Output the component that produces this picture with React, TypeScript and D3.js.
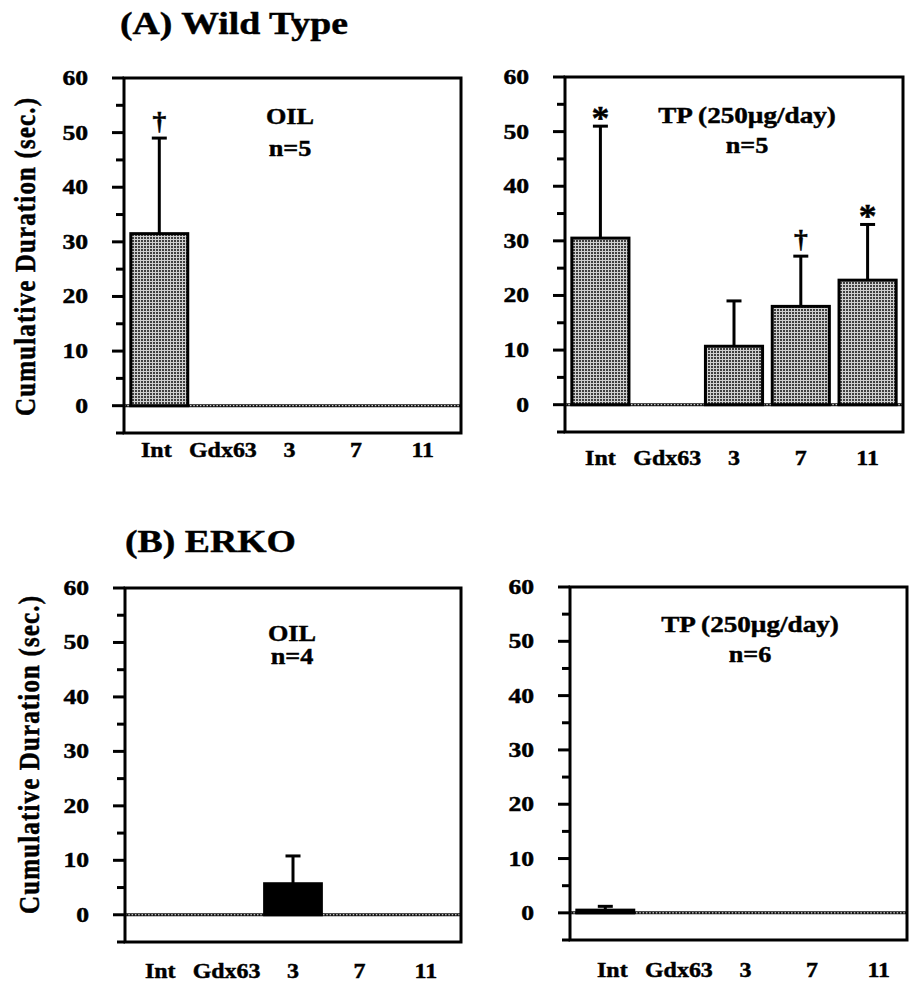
import React from "react";
import * as d3 from "d3";

// ---------- data ----------
const categories = ["Int", "Gdx63", "3", "7", "11"];

const wtOilMean = [31.5, 0, 0, 0, 0];
const wtOilSem = [17.5, 0, 0, 0, 0];
const wtOilMarks = ["†", "", "", "", ""];

const wtTpMean = [30.5, 0, 10.7, 18, 22.8];
const wtTpSem = [20.5, 0, 8.3, 9.2, 10.2];
const wtTpMarks = ["*", "", "", "†", "*"];

const erkoOilMean = [0, 0, 5.7, 0, 0];
const erkoOilSem = [0, 0, 5.1, 0, 0];
const erkoOilMarks = ["", "", "", "", ""];

const erkoTpMean = [0.5, 0, 0, 0, 0];
const erkoTpSem = [0.7, 0, 0, 0, 0];
const erkoTpMarks = ["", "", "", "", ""];

const majorTicks = [0, 10, 20, 30, 40, 50, 60];
const minorTicks = [-5, 5, 15, 25, 35, 45, 55];
const yDomain = [-5, 60];

const titles = ["(A) Wild Type", "(B) ERKO"];
const yAxisTitle = "Cumulative  Duration  (sec.)";
const treatments = ["OIL", "TP (250µg/day)", "OIL", "TP (250µg/day)"];
const nLabels = ["n=5", "n=5", "n=4", "n=6"];

// ---------- layout ----------
const FONT = "'Liberation Serif', 'Times New Roman', Times, serif";

type Layout = {
  axisX: number; rightX: number; top: number; bottom: number;
  labelY: number; labelDx: number; annX: number; ann1Y: number; ann2Y: number;
  yTitle?: { x: number; y: number };
};

const layouts: Layout[] = [
  { axisX: 124, rightX: 461, top: 78, bottom: 433, labelY: 457, labelDx: -3, annX: 290, ann1Y: 124, ann2Y: 156, yTitle: { x: 35, y: 257 } },
  { axisX: 565, rightX: 903, top: 77, bottom: 432, labelY: 465, labelDx: 0, annX: 747, ann1Y: 123, ann2Y: 153 },
  { axisX: 125, rightX: 461, top: 588, bottom: 942, labelY: 978, labelDx: 0, annX: 292, ann1Y: 641, ann2Y: 664, yTitle: { x: 39, y: 755 } },
  { axisX: 570, rightX: 907, top: 587, bottom: 940, labelY: 977, labelDx: 7, annX: 750, ann1Y: 632, ann2Y: 662 },
];

const series = [
  { mean: wtOilMean, sem: wtOilSem, marks: wtOilMarks, fill: "url(#dots)" },
  { mean: wtTpMean, sem: wtTpSem, marks: wtTpMarks, fill: "url(#dots)" },
  { mean: erkoOilMean, sem: erkoOilSem, marks: erkoOilMarks, fill: "#000" },
  { mean: erkoTpMean, sem: erkoTpSem, marks: erkoTpMarks, fill: "#000" },
];

function T(props: {
  x: number; y: number; size: number; sx?: number; anchor?: string; rotate?: number;
  children: React.ReactNode; textLength?: number;
}) {
  const { x, y, size, sx = 1.15, anchor = "middle", rotate = 0, children, textLength } = props;
  return (
    <text
      transform={`translate(${x},${y}) scale(${sx},1)${rotate ? ` rotate(${rotate})` : ""}`}
      textAnchor={anchor}
      fontFamily={FONT}
      fontWeight="bold"
      fontSize={size}
      fill="#000"
      stroke="#000"
      strokeWidth={0.45}
      {...(textLength ? { textLength, lengthAdjust: "spacing" } : {})}
    >
      {children}
    </text>
  );
}

function Panel({ idx }: { idx: number }) {
  const L = layouts[idx];
  const s = series[idx];
  const x = d3.scaleBand<string>().domain(categories).range([L.axisX, L.rightX]).paddingInner(0.1).paddingOuter(0.08);
  const y = d3.scaleLinear().domain(yDomain).range([L.bottom, L.top]);
  const y0 = y(0);
  const bw = x.bandwidth();
  const lw = 3;

  return (
    <g>
      {/* zero baseline (dotted) */}
      <line x1={L.axisX} x2={L.rightX} y1={y0} y2={y0} stroke="#111" strokeWidth={3} />
      <line x1={L.axisX} x2={L.rightX} y1={y0} y2={y0} stroke="#fff" strokeWidth={1} strokeDasharray="1.5 1.8" />

      {/* bars */}
      {categories.map((c, i) => {
        const v = s.mean[i];
        if (v <= 0) return null;
        const bx = x(c)!;
        const top = y(v);
        const errTop = y(v + s.sem[i]);
        const cx = bx + bw / 2;
        return (
          <g key={c}>
            <line x1={cx} x2={cx} y1={top} y2={errTop} stroke="#000" strokeWidth={lw} />
            <line x1={cx - 7.5} x2={cx + 7.5} y1={errTop} y2={errTop} stroke="#000" strokeWidth={lw} />
            <rect x={bx + 1.5} y={top} width={bw - 3} height={y0 - top} fill={s.fill} stroke="#000" strokeWidth={lw} />
            {s.marks[i] === "*" && (
              <T x={cx} y={errTop + 3} size={34} sx={1.05}>*</T>
            )}
            {s.marks[i] === "†" && (
              <T x={cx} y={errTop - 8} size={25} sx={1.1}>†</T>
            )}
          </g>
        );
      })}

      {/* frame */}
      <rect x={L.axisX} y={L.top} width={L.rightX - L.axisX} height={L.bottom - L.top} fill="none" stroke="#000" strokeWidth={3} />

      {/* ticks */}
      {majorTicks.map((t) => (
        <g key={"M" + t}>
          <line x1={L.axisX - 12} x2={L.axisX} y1={y(t)} y2={y(t)} stroke="#000" strokeWidth={3} />
          <T x={L.axisX - 36} y={y(t) + 7} size={20.5} sx={1.25} anchor="end">{String(t)}</T>
        </g>
      ))}
      {minorTicks.map((t) => (
        <line key={"m" + t} x1={L.axisX - 8} x2={L.axisX} y1={y(t)} y2={y(t)} stroke="#000" strokeWidth={3} />
      ))}

      {/* category labels */}
      {categories.map((c) => (
        <T key={"l" + c} x={x(c)! + bw / 2 + L.labelDx} y={L.labelY} size={21} sx={1.14}>{c}</T>
      ))}

      {/* annotation */}
      <T x={L.annX} y={L.ann1Y} size={23} sx={idx % 2 ? 1.18 : 1.14}>{treatments[idx]}</T>
      <T x={L.annX} y={L.ann2Y} size={23} sx={1.14}>{nLabels[idx]}</T>

      {L.yTitle && (
        <T x={L.yTitle.x} y={L.yTitle.y} size={25} sx={1.15} rotate={-90} textLength={318}>{yAxisTitle}</T>
      )}
    </g>
  );
}

export default function App() {
  return (
    <svg
      width={911}
      height={982}
      viewBox="0 0 911 982"
      style={{ position: "absolute", left: 0, top: 0, display: "block", background: "#fff" }}
    >
      <defs>
        <pattern id="dots" width={3} height={3} patternUnits="userSpaceOnUse">
          <rect width={3} height={3} fill="#cfcfcf" />
          <rect width={2} height={2} fill="#404040" />
        </pattern>
      </defs>
      <rect width={911} height={982} fill="#fff" />
      <T x={120} y={34} size={32} sx={1.18} anchor="start">{titles[0]}</T>
      <T x={125} y={552} size={32} sx={1.18} anchor="start">{titles[1]}</T>
      {layouts.map((_, i) => (
        <Panel key={i} idx={i} />
      ))}
    </svg>
  );
}
